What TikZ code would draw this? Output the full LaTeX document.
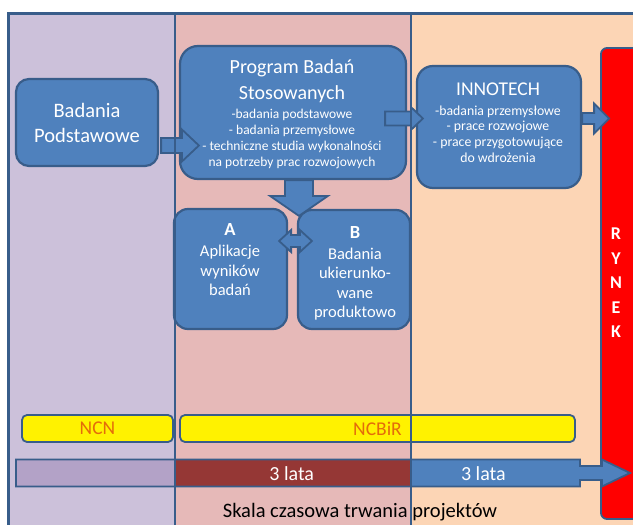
\documentclass[tikz,border=0pt]{standalone}
\usepackage{fontspec}
\setmainfont{Carlito}
\usetikzlibrary{calc}
\definecolor{bordc}{HTML}{385D8A}
\definecolor{boxc}{HTML}{4F81BD}
\definecolor{colA}{HTML}{CCC1DA}
\definecolor{colB}{HTML}{E6B9B8}
\definecolor{colC}{HTML}{FCD5B5}
\definecolor{barA}{HTML}{B3A2C7}
\definecolor{barB}{HTML}{953735}
\definecolor{orangec}{HTML}{E46C0A}
\newcommand\fs[2]{\fontsize{#1}{#2}\selectfont}
% horizontal block arrow: start, tip, shaft half width, head half width, head length
\newcommand\harrow[5]{\draw[blockarr] let \p1=(#1), \p2=(#2) in
  (\x1,\y1+#3) -- (\x2-#5,\y1+#3) -- (\x2-#5,\y1+#4) -- (\x2,\y1) --
  (\x2-#5,\y1-#4) -- (\x2-#5,\y1-#3) -- (\x1,\y1-#3) -- cycle;}
\begin{document}
\begin{tikzpicture}[x=1pt,y=-1pt,
  box/.style={draw=bordc,line width=2.2pt,fill=boxc,inner sep=0pt},
  ln/.style={anchor=base,text=white,inner sep=0pt},
  blockarr/.style={draw=bordc,line width=1.8pt,fill=boxc,line join=miter},
  ybar/.style={draw=bordc,line width=1.8pt,fill=yellow,rounded corners=5pt,
    text=orangec,font=\fs{19.5}{20},inner sep=0pt,minimum height=27pt},
  divider/.style={draw=bordc,line width=2.2pt}]
\useasboundingbox (0,0) rectangle (633,525);
\fill[white] (0,0) rectangle (633,525);
% columns
\fill[colA] (8.5,13.5) rectangle (175,530);
\fill[colB] (175,13.5) rectangle (411,530);
\fill[colC] (411,13.5) rectangle (640,530);
% boxes
\node[box,rounded corners=13pt,minimum width=142pt,minimum height=87pt] (bp) at (87,122.5) {};
\node[box,rounded corners=18pt,minimum width=226pt,minimum height=133pt] (pbs) at (293,112.5) {};
\node[box,rounded corners=16pt,minimum width=164pt,minimum height=122pt] (inno) at (499,127) {};
\node[box,rounded corners=14pt,minimum width=113pt,minimum height=120pt] (boxa) at (230.5,269) {};
\node[box,rounded corners=14pt,minimum width=112pt,minimum height=119pt] (boxb) at (354,269.5) {};
\node[draw=bordc,line width=1.8pt,fill=red,rounded corners=6pt,minimum width=49pt,minimum height=471pt,inner sep=0pt] (rynek) at (625.5,283.5) {};
% connectors
\harrow{$(bp.east)+(2,23)$}{$(pbs.west)+(20,33)$}{7.5pt}{16pt}{17pt}
\harrow{$(pbs.east)+(-22,6)$}{$(inno.west)+(7,-9)$}{7pt}{11.5pt}{12pt}
\harrow{$(inno.east)+(0,-8.5)$}{$(rynek.west)+(9,-165)$}{5.5pt}{15pt}{15pt}
\draw[blockarr] let \p1=($(pbs.south)+(6,0)$), \p2=($(boxa.north east)!0.5!(boxb.north west)+(0,7.5)$) in
  (\x1-14pt,\y1) -- (\x1-14pt,\y2+20pt) -- (\x1-29pt,\y2+20pt) -- (\x1,\y2) --
  (\x1+29pt,\y2+20pt) -- (\x1+14pt,\y2+20pt) -- (\x1+14pt,\y1) -- cycle;
\draw[blockarr] let \p1=($(boxa.east)+(-9,-28)$), \p2=($(boxb.west)+(15,-28.5)$) in
  (\x1,\y1) -- (\x1+12pt,\y1+11pt) -- (\x1+12pt,\y1+6pt) -- (\x2-12pt,\y1+6pt) --
  (\x2-12pt,\y1+11pt) -- (\x2,\y1) -- (\x2-12pt,\y1-11pt) -- (\x2-12pt,\y1-6pt) --
  (\x1+12pt,\y1-6pt) -- (\x1+12pt,\y1-11pt) -- cycle;
% yellow bars
\node[ybar,minimum width=151pt] (ncn) at (97.5,428.5) {NCN};
\node[ybar,minimum width=395pt] (ncbir) at (377.5,428.5) {NCBiR};
% time arrow
\fill[boxc] (16,459.5) -- (580,459.5) -- (580,466) -- (602,466) -- (602,459.5) -- (630,473) --
  (602,486.5) -- (602,480) -- (580,480) -- (580,486.5) -- (16,486.5) -- cycle;
\fill[barA] (16,459.5) rectangle (175,486.5);
\fill[barB] (175,459.5) rectangle (411,486.5);
\draw[bordc,line width=1.8pt,line join=miter] (16,459.5) -- (580,459.5) -- (580,466) -- (602,466) -- (602,459.5) -- (630,473) --
  (602,486.5) -- (602,480) -- (580,480) -- (580,486.5) -- (16,486.5) -- cycle;
% frame and dividers
\draw[divider] (640,13.5) -- (8.5,13.5) -- (8.5,530);
\draw[divider] (175,13.5) -- (175,530);
\draw[divider] (411,13.5) -- (411,530);
% texts
\node[ln,font=\fs{20.5}{24}] (bp1) at (87,117) {Badania};
\node[ln,font=\fs{20.5}{24}] (bp2) at (87,142) {Podstawowe};
\node[ln,font=\fs{20}{24}] (pbs1) at (292,73.3) {Program Badań};
\node[ln,font=\fs{20}{24}] (pbs2) at (292,99) {Stosowanych};
\node[ln,font=\fs{13.5}{16}] (pbs3) at (292,118.3) {-badania podstawowe};
\node[ln,font=\fs{13.5}{16}] (pbs4) at (292,134.3) {- badania przemysłowe};
\node[ln,font=\fs{13.5}{16}] (pbs5) at (292,150.7) {- techniczne studia wykonalności};
\node[ln,font=\fs{13.5}{16}] (pbs6) at (292,166.7) {na potrzeby prac rozwojowych};
\node[ln,font=\fs{19.5}{24}] (in1) at (498,95) {INNOTECH};
\node[ln,font=\fs{13.8}{16}] (in2) at (498,115) {-badania przemysłowe};
\node[ln,font=\fs{13.8}{16}] (in3) at (498,130.5) {- prace rozwojowe};
\node[ln,font=\fs{13.8}{16}] (in4) at (498,146.5) {- prace przygotowujące};
\node[ln,font=\fs{13.8}{16}] (in5) at (498,162) {do wdrożenia};
\node[ln,font=\bfseries\fs{18.5}{20}] (a1) at (230,235) {A};
\node[ln,font=\fs{16.5}{20}] (a2) at (230,256) {Aplikacje};
\node[ln,font=\fs{16.5}{20}] (a3) at (230,276.5) {wyników};
\node[ln,font=\fs{16.5}{20}] (a4) at (230,295.5) {badań};
\node[ln,font=\bfseries\fs{18.5}{20}] (b1) at (355,238.3) {B};
\node[ln,font=\fs{16.5}{20}] (b2) at (355,259) {Badania};
\node[ln,font=\fs{16.5}{20}] (b3) at (355,278.3) {ukierunko-};
\node[ln,font=\fs{16.5}{20}] (b4) at (355,298.3) {wane};
\node[ln,font=\fs{16.5}{20}] (b5) at (355,317.7) {produktowo};
\node[text=white,font=\bfseries\fs{18}{24.5},align=center,inner sep=0pt] (rynekt) at (616,283) {R\\Y\\N\\E\\K};
\node[ln,font=\fs{20}{24}] (t1) at (291.7,480) {3 lata};
\node[ln,font=\fs{20}{24}] (t2) at (483.4,480) {3 lata};
\node[anchor=base,inner sep=0pt,font=\fs{20.5}{24}] (skala) at (360,517.5) {Skala czasowa trwania projektów};
\end{tikzpicture}
\end{document}
